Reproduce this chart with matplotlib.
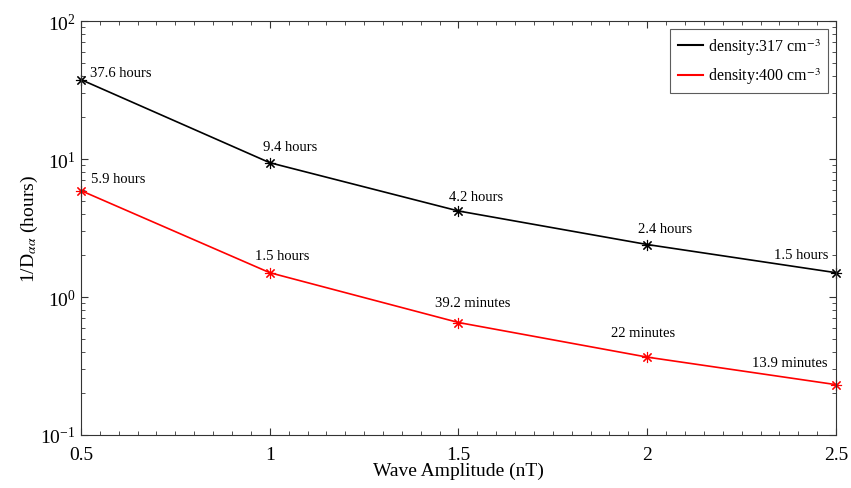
import numpy as np
import matplotlib.pyplot as plt
from matplotlib.lines import Line2D
from matplotlib.ticker import MultipleLocator, LogLocator, NullFormatter

plt.rcParams['font.family'] = ['Liberation Serif', 'DejaVu Serif']
plt.rcParams['mathtext.fontset'] = 'stix'

amplitude = [0.5, 1.0, 1.5, 2.0, 2.5]
hours_317 = [37.6, 9.4, 4.2, 2.4, 1.5]
hours_400 = [5.9, 1.5, 39.2 / 60, 22 / 60, 13.9 / 60]
labels_317 = ['37.6 hours', '9.4 hours', '4.2 hours', '2.4 hours', '1.5 hours']
labels_400 = ['5.9 hours', '1.5 hours', '39.2 minutes', '22 minutes', '13.9 minutes']
legend_labels = ['density:317 cm$^{-3}$', 'density:400 cm$^{-3}$']

# label offsets in pixels (dx, dy) and alignment
off_317 = [(9, 7, 'left'), (-7, 16, 'left'), (-9, 14, 'left'), (-9, 16, 'left'), (-8, 18, 'right')]
off_400 = [(10, 12, 'left'), (-15, 17, 'left'), (-23, 20, 'left'), (-36, 25, 'left'), (-8, 22, 'right')]

fig = plt.figure(figsize=(8.51, 4.89), dpi=100)
ax = fig.add_axes([81 / 851, 1 - 436 / 489, (836 - 81) / 851, (436 - 22) / 489])

star = (8, 2, 0)
ax.plot(amplitude, hours_317, '-', color='black', lw=1.2, marker=star, ms=8, mew=0.8, clip_on=False)
ax.plot(amplitude, hours_400, '-', color='red', lw=1.2, marker=star, ms=8, mew=0.8, clip_on=False)

px = 0.72
for x, y, t, (dx, dy, ha) in zip(amplitude, hours_317, labels_317, off_317):
    ax.annotate(t, (x, y), xytext=(dx * px, dy * px), textcoords='offset points',
                ha=ha, va='center', fontsize=10.5)
for x, y, t, (dx, dy, ha) in zip(amplitude, hours_400, labels_400, off_400):
    ax.annotate(t, (x, y), xytext=(dx * px, dy * px), textcoords='offset points',
                ha=ha, va='center', fontsize=10.5)

ax.set_yscale('log')
ax.set_xlim(0.5, 2.5)
ax.set_ylim(0.1, 100)
ax.set_xticks([0.5, 1, 1.5, 2, 2.5])
ax.set_xticklabels(['0.5', '1', '1.5', '2', '2.5'])
ax.xaxis.set_minor_locator(MultipleLocator(0.05))
ax.yaxis.set_minor_locator(LogLocator(base=10, subs=np.arange(2, 10)))
ax.yaxis.set_minor_formatter(NullFormatter())
ax.tick_params(which='both', direction='in', top=True, right=True, labelsize=14, color='#333333')
ax.tick_params(axis='x', pad=8)
ax.tick_params(axis='y', pad=4)
ax.tick_params(which='major', length=5)
ax.tick_params(which='minor', length=3)
for s in ax.spines.values():
    s.set_color('#333333')
    s.set_linewidth(0.8)

ax.set_xlabel('Wave Amplitude (nT)', fontsize=14, labelpad=-1)
ax.set_ylabel(r'1/D$_{\alpha\alpha}$ (hours)', fontsize=14, labelpad=0)

handles = [Line2D([], [], color='black', lw=1.5), Line2D([], [], color='red', lw=1.5)]
leg = ax.legend(handles, legend_labels, loc='upper right', fontsize=11.5, fancybox=False,
                edgecolor='#333333', handlelength=1.6, borderaxespad=0.5,
                handletextpad=0.3, labelspacing=0.55, borderpad=0.45)
leg.get_frame().set_linewidth(0.8)

fig.savefig('out.png', dpi=100)
